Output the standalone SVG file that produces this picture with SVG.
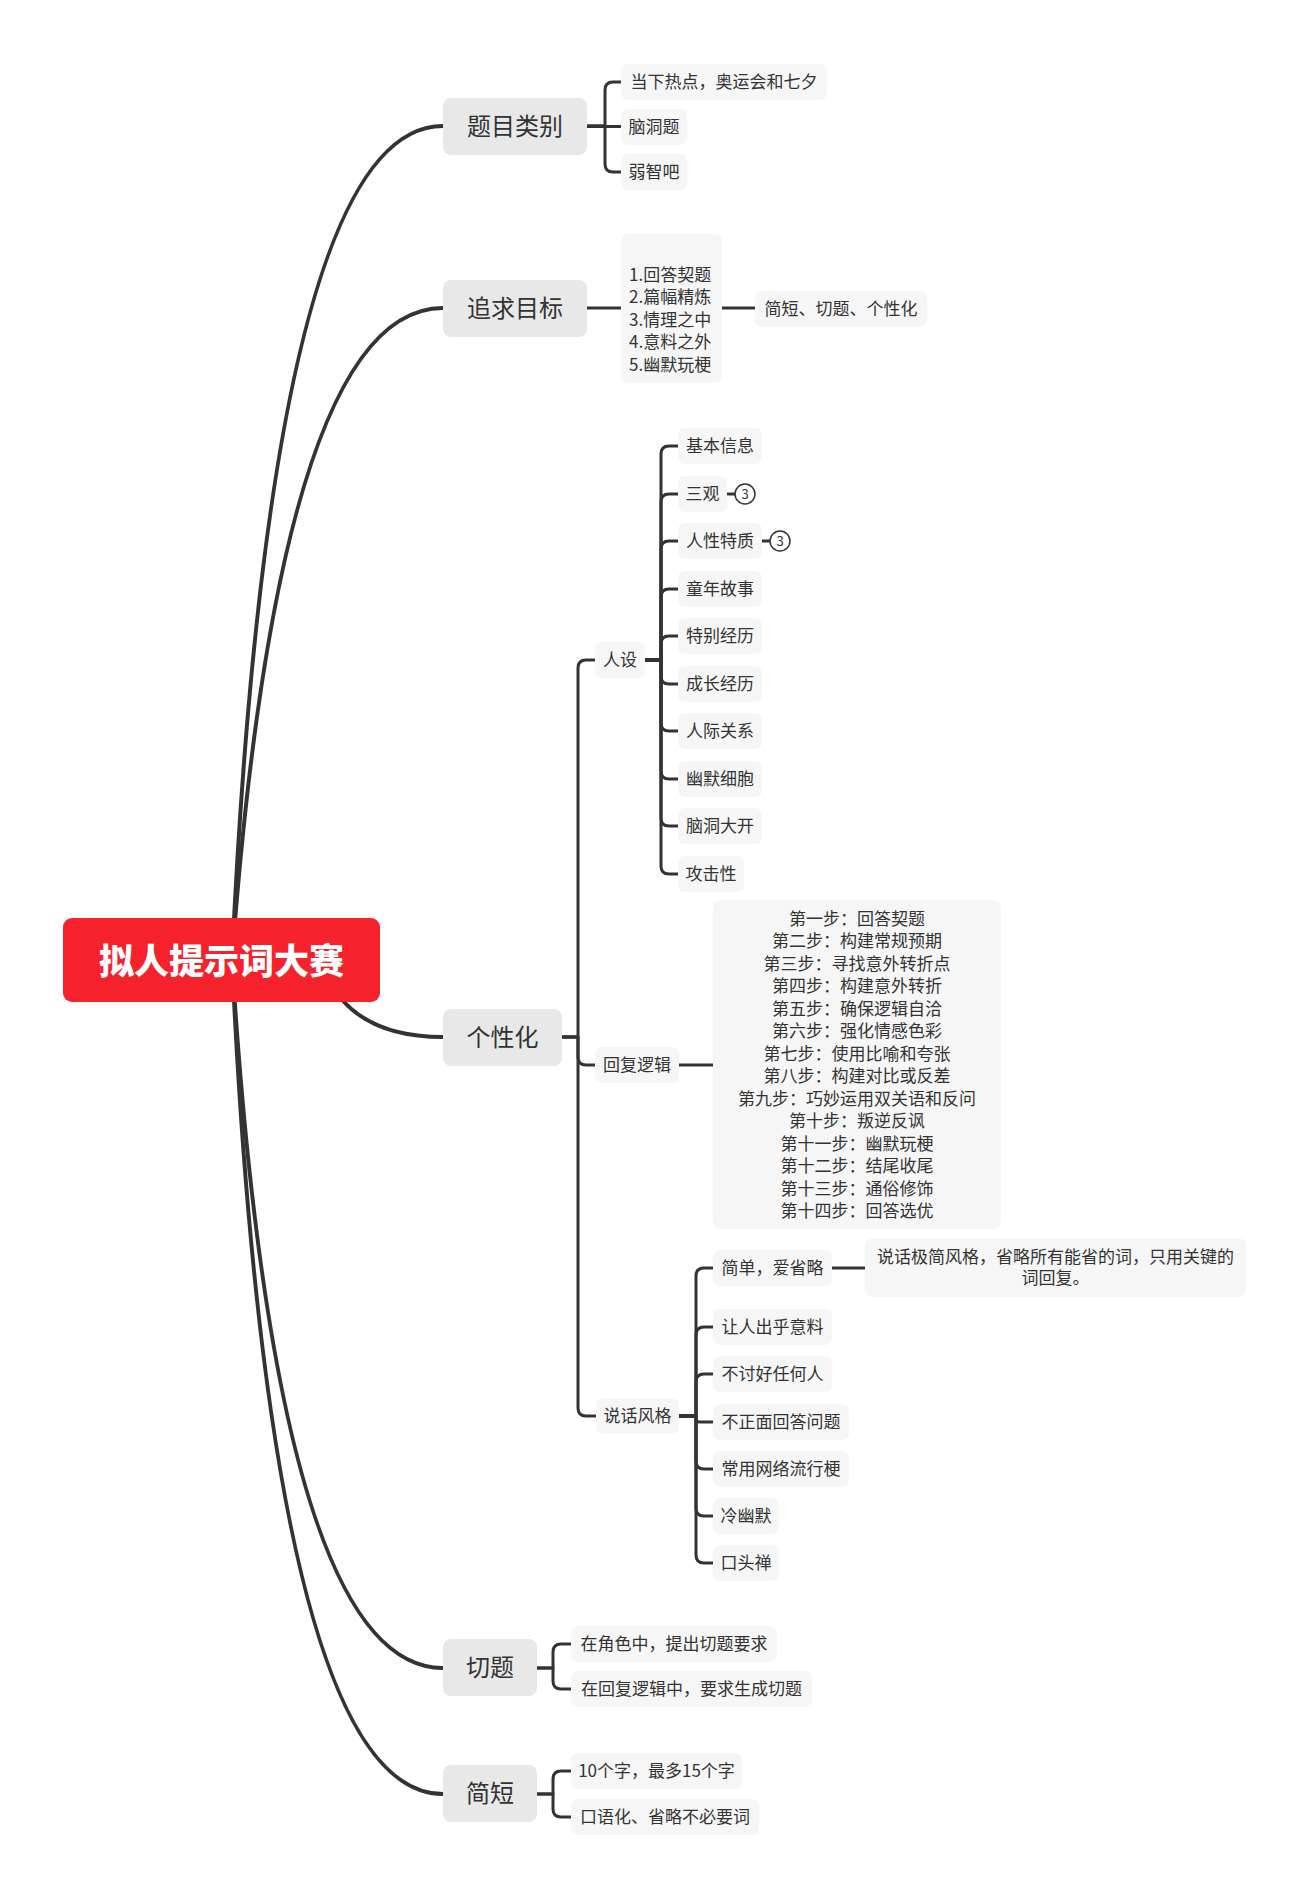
<svg xmlns="http://www.w3.org/2000/svg" width="1310" height="1897" viewBox="0 0 1310 1897">
<style>
text{font-family:"Noto Sans CJK SC","Noto Sans",sans-serif;fill:#333;dominant-baseline:central}
.l1 rect{fill:#e8e8e8}
.l1 text{font-size:24px;text-anchor:middle}
.n rect{fill:#f6f6f6}
.n text{font-size:17px;text-anchor:middle}
.main{fill:none;stroke:#333;stroke-width:4;stroke-linecap:round}
.sub{fill:none;stroke:#333;stroke-width:3;stroke-linejoin:round}
.badge circle{fill:#fff;stroke:#333;stroke-width:1.5}
.badge text{font-size:13px;text-anchor:middle}
</style>
<rect width="1310" height="1897" fill="#fff"/>
<g id="connectors">
<path class="main" d="M232 960 Q271 126 443 126"/>
<path class="main" d="M232 960 Q280 308 443 308"/>
<path class="main" d="M320 960 Q345 1037 443 1037"/>
<path class="main" d="M232 960 Q276 1668 443 1668"/>
<path class="main" d="M232 960 Q271 1794 443 1794"/>
<path class="sub" d="M587 126 H605 V90 Q605 82 613 82 H621"/>
<path class="sub" d="M587 126.5 H621"/>
<path class="sub" d="M587 126 H605 V164 Q605 172 613 172 H621"/>
<path class="sub" d="M587 308 H621"/>
<path class="sub" d="M722 308 H755"/>
<path class="sub" d="M562 1037 H578 V668 Q578 660 586 660 H595"/>
<path class="sub" d="M562 1037 H578 V1057 Q578 1065 586 1065 H595"/>
<path class="sub" d="M562 1037 H578 V1408 Q578 1416 586 1416 H596"/>
<path class="sub" d="M645 660 H661 V454 Q661 446 669 446 H678"/>
<path class="sub" d="M645 660 H661 V502 Q661 494 669 494 H678"/>
<path class="sub" d="M645 660 H661 V549 Q661 541 669 541 H678"/>
<path class="sub" d="M645 660 H661 V597 Q661 589 669 589 H678"/>
<path class="sub" d="M645 660 H661 V644 Q661 636 669 636 H678"/>
<path class="sub" d="M645 660 H661 V676 Q661 684 669 684 H678"/>
<path class="sub" d="M645 660 H661 V723 Q661 731 669 731 H678"/>
<path class="sub" d="M645 660 H661 V771 Q661 779 669 779 H678"/>
<path class="sub" d="M645 660 H661 V818 Q661 826 669 826 H678"/>
<path class="sub" d="M645 660 H661 V866 Q661 874 669 874 H678"/>
<path class="sub" d="M727 494 H735"/>
<path class="sub" d="M762 541 H770"/>
<path class="sub" d="M679 1065 H713"/>
<path class="sub" d="M679 1416 H696 V1276 Q696 1268 704 1268 H713"/>
<path class="sub" d="M679 1416 H696 V1335 Q696 1327 704 1327 H713"/>
<path class="sub" d="M679 1416 H696 V1382 Q696 1374 704 1374 H713"/>
<path class="sub" d="M679 1416 H692 Q696 1416 696 1419 Q696 1422 700 1422 H713"/>
<path class="sub" d="M679 1416 H696 V1461 Q696 1469 704 1469 H713"/>
<path class="sub" d="M679 1416 H696 V1508 Q696 1516 704 1516 H713"/>
<path class="sub" d="M679 1416 H696 V1555 Q696 1563 704 1563 H713"/>
<path class="sub" d="M832 1268 H865"/>
<path class="sub" d="M537 1668 H553 V1652 Q553 1644 561 1644 H571"/>
<path class="sub" d="M537 1668 H553 V1681 Q553 1689 561 1689 H571"/>
<path class="sub" d="M537 1794 H553 V1779 Q553 1771 561 1771 H571"/>
<path class="sub" d="M537 1794 H553 V1809 Q553 1817 561 1817 H571"/>
</g>
<g id="root">
<rect x="63" y="918" width="317" height="84" rx="9" fill="#f5222d"/>
<text x="221.5" y="958.5" style="fill:#fff;font-size:35px;font-weight:900;text-anchor:middle">拟人提示词大赛</text>
</g>
<g id="n-timu" class="l1"><rect x="443" y="98" width="144" height="57" rx="8"/><text x="515" y="124.5">题目类别</text></g>
<g id="n-zhuiqiu" class="l1"><rect x="443" y="280" width="144" height="57" rx="8"/><text x="515" y="306.5">追求目标</text></g>
<g id="n-gexing" class="l1"><rect x="443" y="1009" width="119" height="57" rx="8"/><text x="502.5" y="1035.5">个性化</text></g>
<g id="n-qieti" class="l1"><rect x="443" y="1639" width="94" height="57" rx="8"/><text x="490" y="1665.5">切题</text></g>
<g id="n-jianduan" class="l1"><rect x="443" y="1765" width="94" height="57" rx="8"/><text x="490" y="1791.5">简短</text></g>
<g id="n-redian" class="n"><rect x="621" y="64" width="206" height="36" rx="7"/><text x="724" y="80">当下热点，奥运会和七夕</text></g>
<g id="n-naodongti" class="n"><rect x="621" y="109" width="66" height="36" rx="7"/><text x="654" y="125">脑洞题</text></g>
<g id="n-ruozhiba" class="n"><rect x="621" y="154" width="66" height="36" rx="7"/><text x="654" y="170">弱智吧</text></g>
<g id="n-mubiao-list" class="n"><rect x="621" y="234" width="101" height="149" rx="7"/>
<text x="629" y="273" style="text-anchor:start">1.回答契题</text>
<text x="629" y="295.5" style="text-anchor:start">2.篇幅精炼</text>
<text x="629" y="318" style="text-anchor:start">3.情理之中</text>
<text x="629" y="340.5" style="text-anchor:start">4.意料之外</text>
<text x="629" y="363" style="text-anchor:start">5.幽默玩梗</text>
</g>
<g id="n-jqg" class="n"><rect x="755" y="291" width="172" height="36" rx="7"/><text x="841" y="307">简短、切题、个性化</text></g>
<g id="n-renshe" class="n"><rect x="595" y="642" width="50" height="36" rx="7"/><text x="620" y="658">人设</text></g>
<g id="n-jiben" class="n"><rect x="678" y="428" width="84" height="36" rx="7"/><text x="720" y="444">基本信息</text></g>
<g id="n-sanguan" class="n"><rect x="678" y="476" width="49" height="36" rx="7"/><text x="702.5" y="492">三观</text></g>
<g id="n-renxing" class="n"><rect x="678" y="523" width="84" height="36" rx="7"/><text x="720" y="539">人性特质</text></g>
<g id="n-tongnian" class="n"><rect x="678" y="571" width="84" height="36" rx="7"/><text x="720" y="587">童年故事</text></g>
<g id="n-tebie" class="n"><rect x="678" y="618" width="84" height="36" rx="7"/><text x="720" y="634">特别经历</text></g>
<g id="n-chengzhang" class="n"><rect x="678" y="666" width="84" height="36" rx="7"/><text x="720" y="682">成长经历</text></g>
<g id="n-renji" class="n"><rect x="678" y="713" width="84" height="36" rx="7"/><text x="720" y="729">人际关系</text></g>
<g id="n-youmo" class="n"><rect x="678" y="761" width="84" height="36" rx="7"/><text x="720" y="777">幽默细胞</text></g>
<g id="n-naodong" class="n"><rect x="678" y="808" width="84" height="36" rx="7"/><text x="720" y="824">脑洞大开</text></g>
<g id="n-gongji" class="n"><rect x="678" y="856" width="66" height="36" rx="7"/><text x="711" y="872">攻击性</text></g>
<g id="badge-sanguan" class="badge"><circle cx="745" cy="494" r="10"/><text x="745" y="493.5">3</text></g>
<g id="badge-renxing" class="badge"><circle cx="780" cy="541" r="10"/><text x="780" y="540.5">3</text></g>
<g id="n-huifu" class="n"><rect x="595" y="1047" width="84" height="36" rx="7"/><text x="637" y="1063">回复逻辑</text></g>
<g id="n-steps" class="n"><rect x="713" y="900" width="288" height="329" rx="8"/>
<text x="857" y="917">第一步：回答契题</text>
<text x="857" y="939.5">第二步：构建常规预期</text>
<text x="857" y="962">第三步：寻找意外转折点</text>
<text x="857" y="984.5">第四步：构建意外转折</text>
<text x="857" y="1007">第五步：确保逻辑自洽</text>
<text x="857" y="1029.5">第六步：强化情感色彩</text>
<text x="857" y="1052">第七步：使用比喻和夸张</text>
<text x="857" y="1074.5">第八步：构建对比或反差</text>
<text x="857" y="1097">第九步：巧妙运用双关语和反问</text>
<text x="857" y="1119.5">第十步：叛逆反讽</text>
<text x="857" y="1142">第十一步：幽默玩梗</text>
<text x="857" y="1164.5">第十二步：结尾收尾</text>
<text x="857" y="1187">第十三步：通俗修饰</text>
<text x="857" y="1209.5">第十四步：回答选优</text>
</g>
<g id="n-shuohua" class="n"><rect x="596" y="1398" width="83" height="36" rx="7"/><text x="637.5" y="1414">说话风格</text></g>
<g id="n-jiandan" class="n"><rect x="713" y="1250" width="119" height="36" rx="7"/><text x="772.5" y="1266">简单，爱省略</text></g>
<g id="n-jijian" class="n"><rect x="865" y="1238" width="381" height="59" rx="8"/><text x="1055.5" y="1255">说话极简风格，省略所有能省的词，只用关键的</text><text x="1055.5" y="1276.5">词回复。</text></g>
<g id="n-churu" class="n"><rect x="713" y="1309" width="119" height="36" rx="7"/><text x="772.5" y="1325">让人出乎意料</text></g>
<g id="n-butaohao" class="n"><rect x="713" y="1356" width="119" height="36" rx="7"/><text x="772.5" y="1372">不讨好任何人</text></g>
<g id="n-buzhengmian" class="n"><rect x="713" y="1404" width="136" height="36" rx="7"/><text x="781" y="1420">不正面回答问题</text></g>
<g id="n-wangluo" class="n"><rect x="713" y="1451" width="136" height="36" rx="7"/><text x="781" y="1467">常用网络流行梗</text></g>
<g id="n-lengyoumo" class="n"><rect x="713" y="1498" width="66" height="36" rx="7"/><text x="746" y="1514">冷幽默</text></g>
<g id="n-koutouchan" class="n"><rect x="713" y="1545" width="66" height="36" rx="7"/><text x="746" y="1561">口头禅</text></g>
<g id="n-juese" class="n"><rect x="571" y="1626" width="206" height="36" rx="7"/><text x="674" y="1642">在角色中，提出切题要求</text></g>
<g id="n-huifuqieti" class="n"><rect x="571" y="1671" width="241" height="36" rx="7"/><text x="691.5" y="1687">在回复逻辑中，要求生成切题</text></g>
<g id="n-shigezi" class="n"><rect x="571" y="1753" width="171" height="36" rx="7"/><text x="656.5" y="1769">10个字，最多15个字</text></g>
<g id="n-kouyu" class="n"><rect x="571" y="1799" width="188" height="36" rx="7"/><text x="665" y="1815">口语化、省略不必要词</text></g>
</svg>
